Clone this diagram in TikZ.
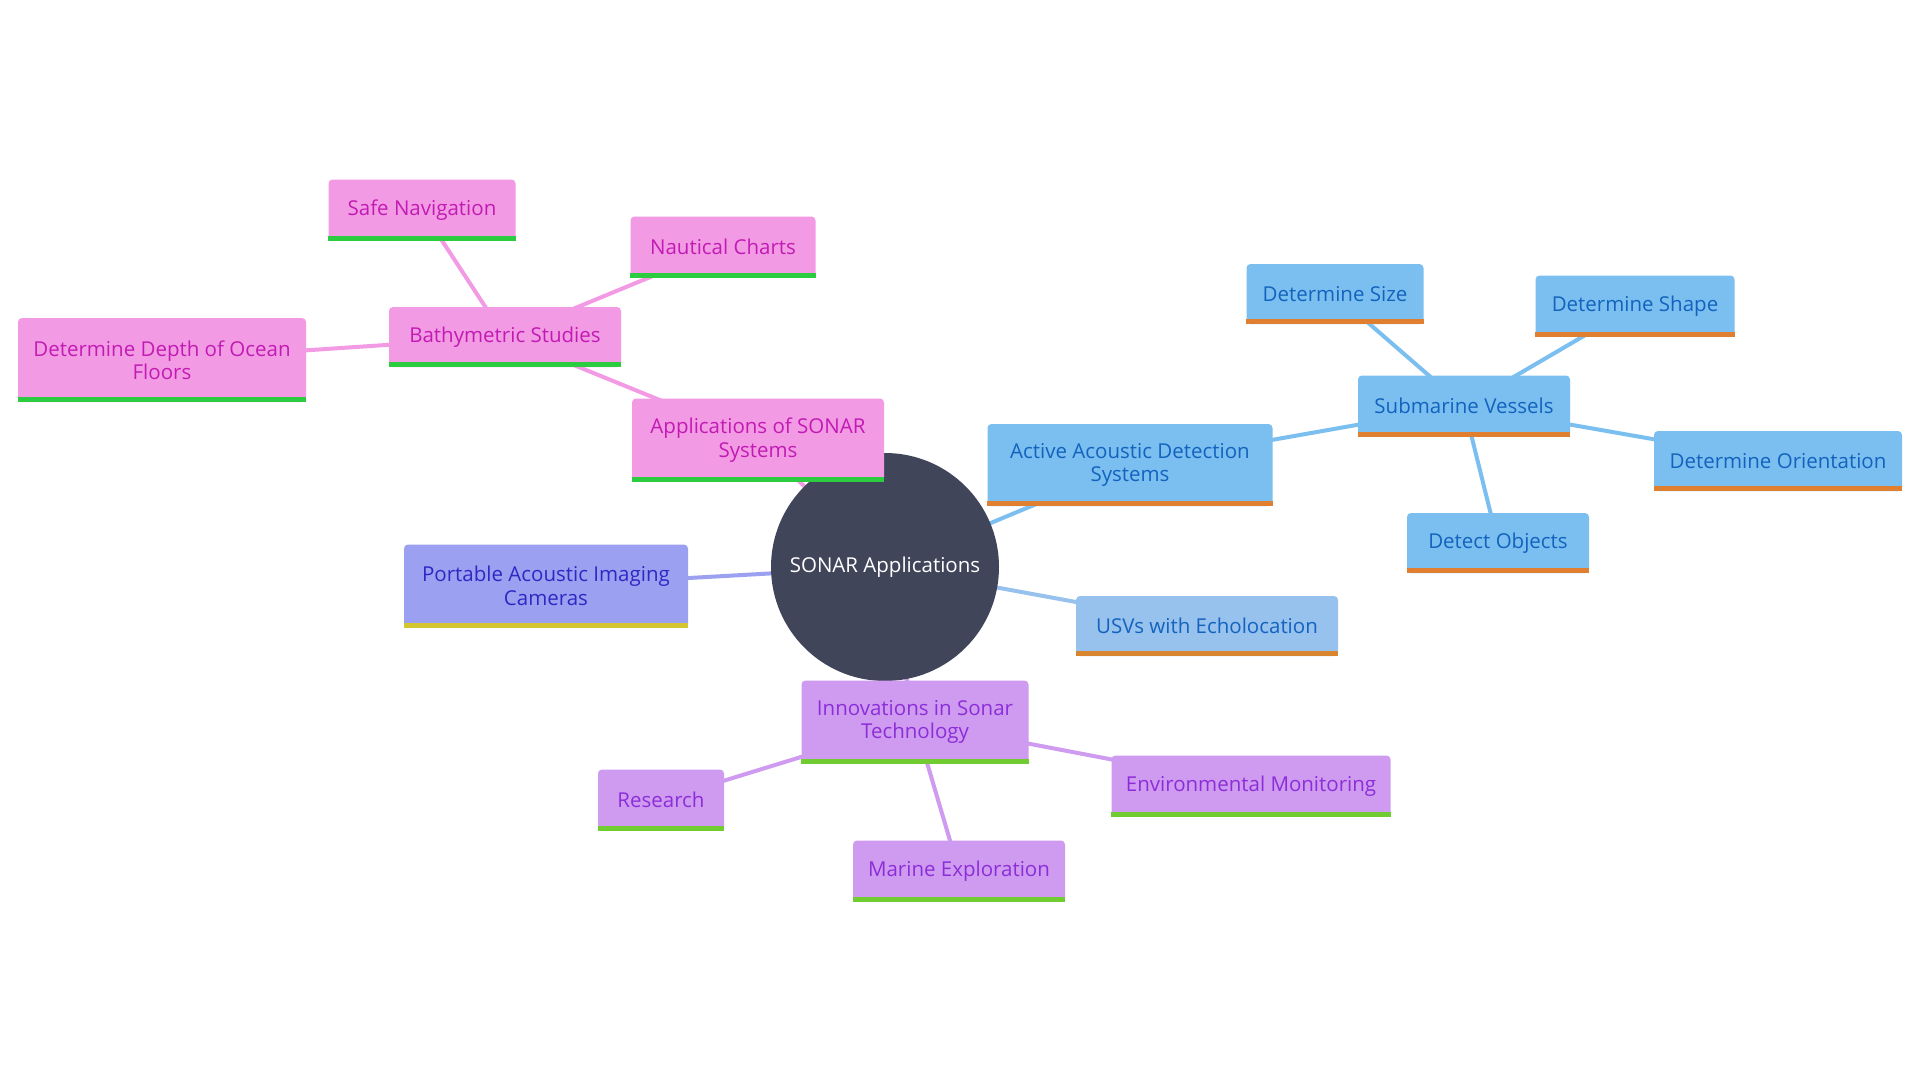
\documentclass[tikz,border=0pt]{standalone}
\usepackage{fontspec}
\setmainfont{Open Sans}
\definecolor{pinkfill}{HTML}{F39AE5}
\definecolor{pinktext}{HTML}{C21BB3}
\definecolor{pinkbar}{HTML}{2BCC40}
\definecolor{bluefill}{HTML}{7BBFF0}
\definecolor{bluetext}{HTML}{1363BE}
\definecolor{bluebar}{HTML}{E07F30}
\definecolor{usvfill}{HTML}{98C2EE}
\definecolor{usvbar}{HTML}{D9842E}
\definecolor{lavfill}{HTML}{9BA0F0}
\definecolor{lavtext}{HTML}{3327C4}
\definecolor{lavbar}{HTML}{D4C630}
\definecolor{purfill}{HTML}{CF9BF0}
\definecolor{purtext}{HTML}{8C2ED8}
\definecolor{purbar}{HTML}{70CC30}
\definecolor{rootfill}{HTML}{41455A}
\pgfdeclarelayer{bg}
\pgfdeclarelayer{paper}
\pgfsetlayers{paper,bg,main}
\tikzset{
  box/.style={rectangle, rounded corners=4pt, align=center, inner sep=0pt,
    font=\fontsize{20.5}{23.5}\selectfont},
  pinkbox/.style={box, fill=pinkfill, text=pinktext},
  bluebox/.style={box, fill=bluefill, text=bluetext},
  usvbox/.style={box, fill=usvfill, text=bluetext},
  lavbox/.style={box, fill=lavfill, text=lavtext},
  purbox/.style={box, fill=purfill, text=purtext},
  link/.style={line width=4pt},
}
\newcommand{\bottombar}[2]{\fill[#2] ([yshift=5pt]#1.south west) rectangle (#1.south east);}
\begin{document}
\begin{tikzpicture}[x=1pt, y=-1pt]
\begin{pgfonlayer}{paper}
\path[use as bounding box, fill=white] (0,0) rectangle (1920,1080);
\end{pgfonlayer}

% nodes
\node[circle, fill=rootfill, text=white, minimum size=228pt, inner sep=0pt,
  font=\fontsize{20.5}{23.5}\selectfont] (root) at (885,567) {SONAR Applications};

\node[pinkbox, minimum width=252pt, minimum height=83pt] (app) at (758,440) {Applications of SONAR\\Systems};
\node[pinkbox, minimum width=232pt, minimum height=60pt] (bath) at (505,337) {Bathymetric Studies};
\node[pinkbox, minimum width=187pt, minimum height=61pt] (safe) at (422,210) {Safe Navigation};
\node[pinkbox, minimum width=185pt, minimum height=61pt] (naut) at (723,247) {Nautical Charts};
\node[pinkbox, minimum width=288pt, minimum height=84pt] (depth) at (162,360) {Determine Depth of Ocean\\Floors};

\node[bluebox, minimum width=285pt, minimum height=82pt] (active) at (1130,465) {Active Acoustic Detection\\Systems};
\node[bluebox, minimum width=212pt, minimum height=61pt] (sub) at (1464,406) {Submarine Vessels};
\node[bluebox, minimum width=177pt, minimum height=60pt] (size) at (1335,294) {Determine Size};
\node[bluebox, minimum width=199pt, minimum height=61pt] (shape) at (1635,306) {Determine Shape};
\node[bluebox, minimum width=248pt, minimum height=60pt] (orient) at (1778,461) {Determine Orientation};
\node[bluebox, minimum width=182pt, minimum height=60pt] (detect) at (1498,543) {Detect Objects};

\node[usvbox, minimum width=262pt, minimum height=60pt] (usv) at (1207,626) {USVs with Echolocation};

\node[lavbox, minimum width=284pt, minimum height=83pt] (port) at (546,586) {Portable Acoustic Imaging\\Cameras};

\node[purbox, minimum width=227pt, minimum height=83pt] (innov) at (915,722) {Innovations in Sonar\\Technology};
\node[purbox, minimum width=126pt, minimum height=61pt] (research) at (661,800) {Research};
\node[purbox, minimum width=279pt, minimum height=61pt] (env) at (1251,786) {Environmental Monitoring};
\node[purbox, minimum width=212pt, minimum height=61pt] (marine) at (959,871) {Marine Exploration};

% connectors (behind nodes)
\begin{pgfonlayer}{bg}
\draw[link, pinkfill] (root.center) -- (app.center);
\draw[link, pinkfill] (app.center) -- (bath.center);
\draw[link, pinkfill] (bath.center) -- (safe.center);
\draw[link, pinkfill] (bath.center) -- (naut.center);
\draw[link, pinkfill] (bath.center) -- (depth.center);
\draw[link, bluefill] (root.center) -- (active.center);
\draw[link, bluefill] (active.center) -- (sub.center);
\draw[link, bluefill] (sub.center) -- (size.center);
\draw[link, bluefill] (sub.center) -- (shape.center);
\draw[link, bluefill] (sub.center) -- (orient.center);
\draw[link, bluefill] (sub.center) -- (detect.center);
\draw[link, usvfill] (root.center) -- (usv.center);
\draw[link, lavfill] (root.center) -- (port.center);
\draw[link, purfill] (root.center) -- (innov.center);
\draw[link, purfill] (innov.center) -- (research.center);
\draw[link, purfill] (innov.center) -- (env.center);
\draw[link, purfill] (innov.center) -- (marine.center);
\end{pgfonlayer}

% bottom bars
\bottombar{app}{pinkbar}
\bottombar{bath}{pinkbar}
\bottombar{safe}{pinkbar}
\bottombar{naut}{pinkbar}
\bottombar{depth}{pinkbar}
\bottombar{active}{bluebar}
\bottombar{sub}{bluebar}
\bottombar{size}{bluebar}
\bottombar{shape}{bluebar}
\bottombar{orient}{bluebar}
\bottombar{detect}{bluebar}
\bottombar{usv}{usvbar}
\bottombar{port}{lavbar}
\bottombar{innov}{purbar}
\bottombar{research}{purbar}
\bottombar{env}{purbar}
\bottombar{marine}{purbar}
\end{tikzpicture}
\end{document}
